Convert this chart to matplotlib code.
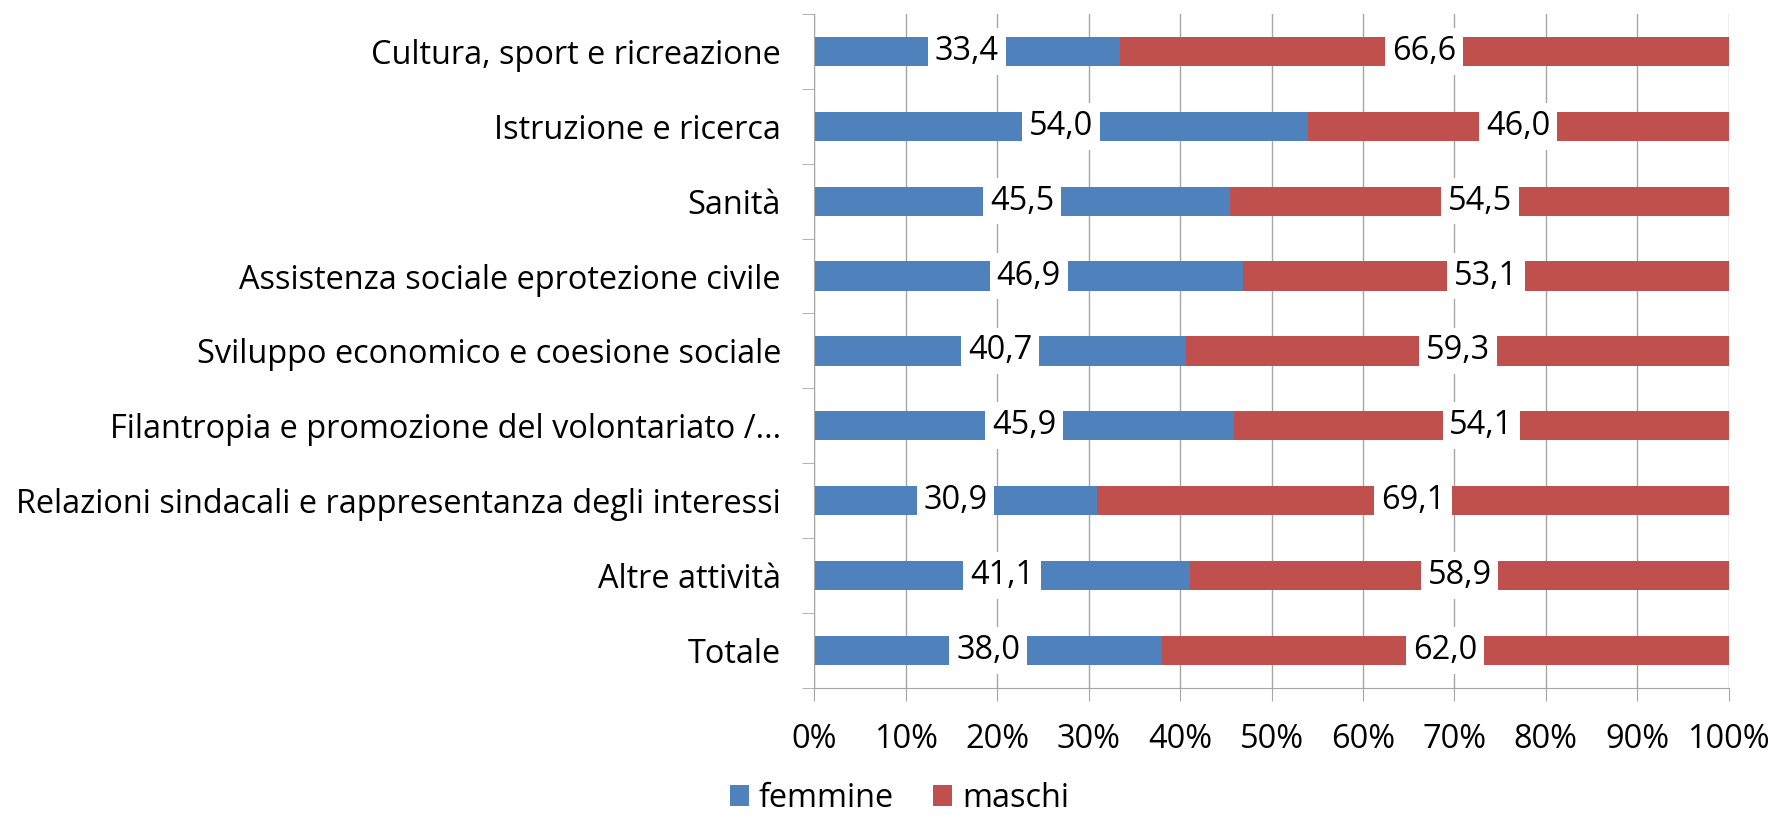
import matplotlib.pyplot as plt
import numpy as np
from matplotlib.ticker import FixedLocator, PercentFormatter

plt.rcParams['font.family'] = ['Open Sans', 'DejaVu Sans']

categories = ["Cultura, sport e ricreazione", "Istruzione e ricerca", "Sanità",
              "Assistenza sociale eprotezione civile",
              "Sviluppo economico e coesione sociale",
              "Filantropia e promozione del volontariato /...",
              "Relazioni sindacali e rappresentanza degli interessi",
              "Altre attività", "Totale"]
femmine = [33.4, 54.0, 45.5, 46.9, 40.7, 45.9, 30.9, 41.1, 38.0]
maschi = [66.6, 46.0, 54.5, 53.1, 59.3, 54.1, 69.1, 58.9, 62.0]

blue = "#4F81BD"
red = "#C0504D"
grey = "#A6A6A6"
fs = 23.4

fig = plt.figure(figsize=(17.74, 8.18), dpi=100)
ax = fig.add_axes([0.459, 0.159, 0.5155, 0.824])

y = np.arange(len(categories))
ax.barh(y, femmine, height=0.39, color=blue, label="femmine", zorder=2)
ax.barh(y, maschi, left=femmine, height=0.39, color=red, label="maschi", zorder=2)

# data labels centred in each segment, on a white box
for i in range(len(categories)):
    for start, val in [(0, femmine[i]), (femmine[i], maschi[i])]:
        ax.text(start + val / 2, y[i], f"{val:.1f}".replace(".", ","),
                ha="center", va="center", fontsize=fs, zorder=3,
                bbox=dict(facecolor="white", edgecolor="none", pad=5))

ax.set_xlim(0, 100)
ax.set_ylim(len(categories) - 0.5, -0.5)
ax.xaxis.set_major_locator(FixedLocator(np.arange(0, 101, 10)))
ax.xaxis.set_major_formatter(PercentFormatter(decimals=0))
ax.set_yticks(y)
ax.set_yticklabels(categories)
ax.yaxis.set_minor_locator(FixedLocator(np.arange(-0.5, len(categories), 1)))
ax.tick_params(axis="y", which="major", length=0, pad=24, labelsize=fs)
ax.tick_params(axis="y", which="minor", length=9, color=grey)
ax.tick_params(axis="x", length=9, color=grey, labelsize=fs, pad=16)

ax.grid(axis="x", color=grey, linewidth=1, zorder=0)
for s in ["top", "right"]:
    ax.spines[s].set_visible(False)
for s in ["left", "bottom"]:
    ax.spines[s].set_color(grey)

handles, labels = ax.get_legend_handles_labels()
fig.legend(handles, labels, loc="center", bbox_to_anchor=(0.507, 0.024), ncol=2,
           frameon=False, fontsize=fs, handlelength=0.6, handleheight=0.6,
           handletextpad=0.3, columnspacing=1.2, borderpad=0)

fig.savefig("out.png", dpi=100)
